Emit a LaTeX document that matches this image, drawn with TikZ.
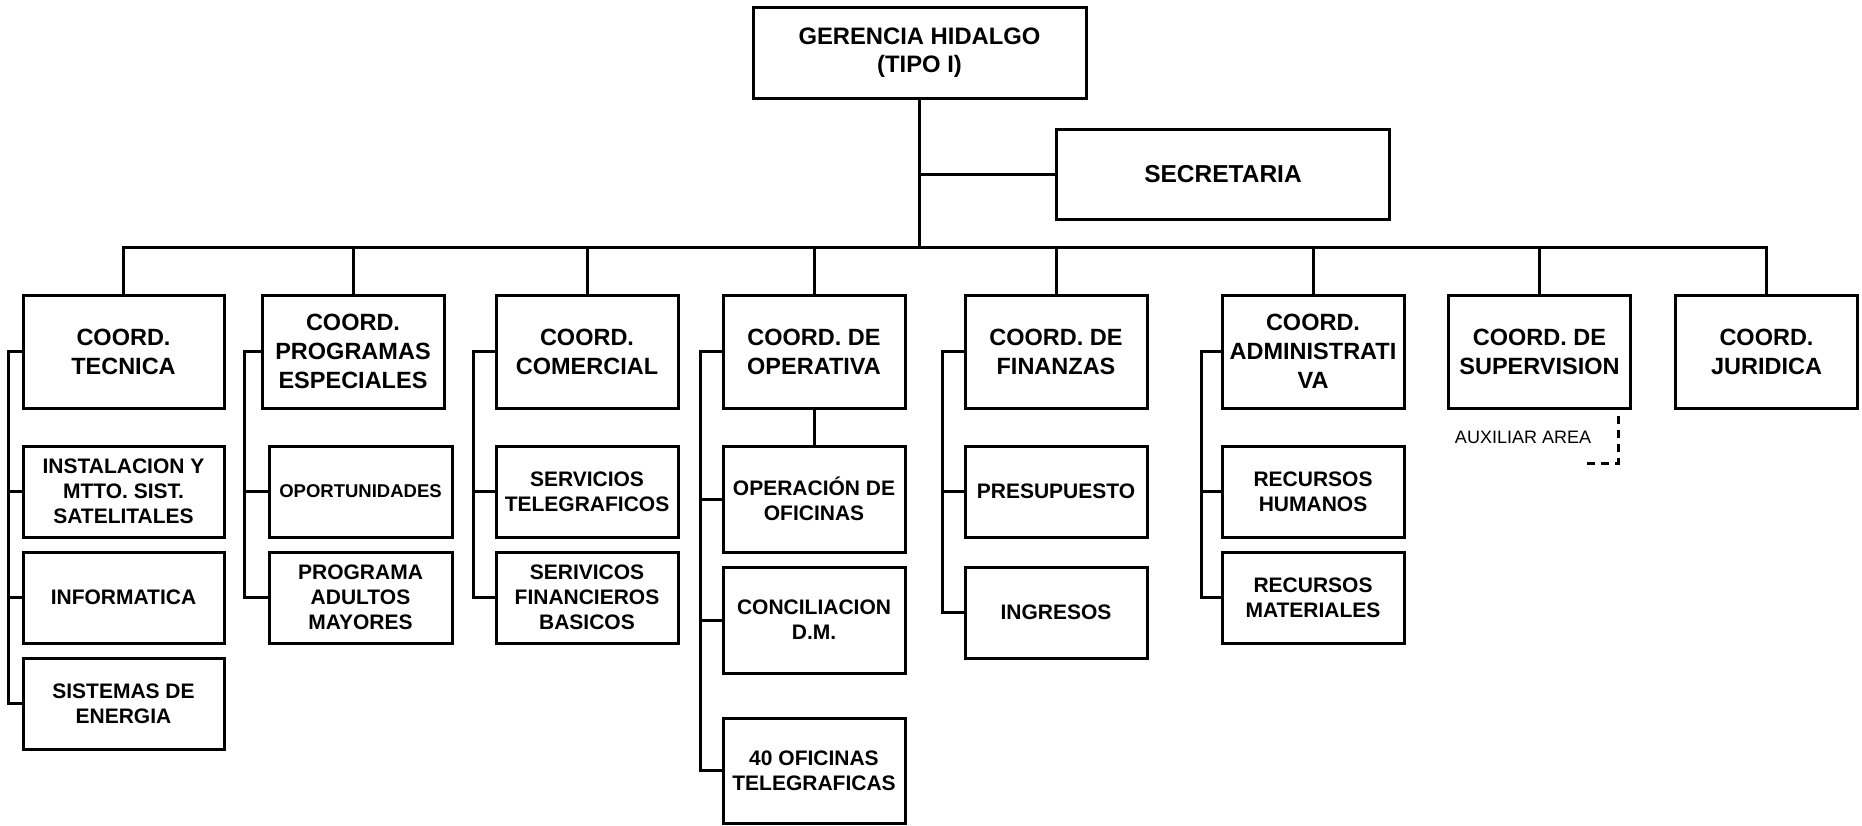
\documentclass[tikz,border=0pt]{standalone}
\usepackage{fontspec}
\setmainfont{Liberation Sans}
\begin{document}
\begin{tikzpicture}[x=1pt,y=-1pt,
  box/.style={draw=black, line width=3pt, fill=white, inner sep=0pt, align=center, text=black},
  coordbox/.style={box, minimum width=182pt, minimum height=113pt, font=\bfseries\fontsize{23.5}{29}\selectfont},
  childbox/.style={box, minimum width=182pt, minimum height=91pt, font=\bfseries\fontsize{21}{25}\selectfont},
  topbox/.style={box, minimum width=333pt, minimum height=91pt, font=\bfseries\fontsize{23.8}{28}\selectfont},
  link/.style={draw=black, line width=3pt},
  auxlink/.style={draw=black, line width=3pt, dash pattern=on 8pt off 6pt}
]
\useasboundingbox (0,0) rectangle (1862,825);

% top
\node[topbox] (G) at (919.5,52.5) {GERENCIA HIDALGO\\(TIPO I)};
\node[topbox, minimum height=90pt, font=\bfseries\fontsize{24.5}{28}\selectfont] (S) at (1223,174) {SECRETARIA};

% coordinators
\node[coordbox, minimum width=201pt] (c1) at (123.5,351.5) {COORD.\\TECNICA};
\node[coordbox] (c2) at (353,351.5) {COORD.\\PROGRAMAS\\ESPECIALES};
\node[coordbox] (c3) at (587,351.5) {COORD.\\COMERCIAL};
\node[coordbox] (c4) at (814,351.5) {COORD. DE\\OPERATIVA};
\node[coordbox] (c5) at (1056,351.5) {COORD. DE\\FINANZAS};
\node[coordbox] (c6) at (1313,351.5) {COORD.\\ADMINISTRATI\\VA};
\node[coordbox] (c7) at (1539.5,351.5) {COORD. DE\\SUPERVISION};
\node[coordbox] (c8) at (1766.5,351.5) {COORD.\\JURIDICA};

% column 1
\node[childbox, minimum width=201pt] (k11) at (123.5,491.5) {INSTALACION Y\\MTTO. SIST.\\SATELITALES};
\node[childbox, minimum width=201pt] (k12) at (123.5,597.5) {INFORMATICA};
\node[childbox, minimum width=201pt] (k13) at (123.5,703.5) {SISTEMAS DE\\ENERGIA};
% column 2
\node[childbox, minimum width=183pt, font=\bfseries\fontsize{18.5}{22}\selectfont] (k21) at (360.5,491.5) {OPORTUNIDADES};
\node[childbox, minimum width=183pt] (k22) at (360.5,597.5) {PROGRAMA\\ADULTOS\\MAYORES};
% column 3
\node[childbox] (k31) at (587,491.5) {SERVICIOS\\TELEGRAFICOS};
\node[childbox] (k32) at (587,597.5) {SERIVICOS\\FINANCIEROS\\BASICOS};
% column 4
\node[childbox, minimum height=106pt] (k41) at (814,499) {OPERACIÓN DE\\OFICINAS};
\node[childbox, minimum height=106pt] (k42) at (814,620) {CONCILIACION\\D.M.};
\node[childbox, minimum height=105pt] (k43) at (814,770.5) {40 OFICINAS\\TELEGRAFICAS};
% column 5
\node[childbox] (k51) at (1056,491.5) {PRESUPUESTO};
\node[childbox] (k52) at (1056,612.5) {INGRESOS};
% column 6
\node[childbox] (k61) at (1313,491.5) {RECURSOS\\HUMANOS};
\node[childbox] (k62) at (1313,597.5) {RECURSOS\\MATERIALES};

% auxiliar
\node[inner sep=0pt, font=\fontsize{18}{21}\selectfont] (aux) at (1523,437) {AUXILIAR AREA};
\coordinate (auxT) at (1618,416);
\coordinate (auxC) at (1618,463);
\coordinate (auxE) at (1585,463);
\draw[auxlink] (auxT) -- (auxC) -- (auxE);

% top connectors
\coordinate (busL) at (123.5,247);
\coordinate (busR) at (1766.5,247);
\draw[link] (G.south) -- (G.south |- busL) -- ++(0,1.5);
\draw[link] (S.west) -- (S.west -| G.south);
\draw[link, line cap=rect] (busL) -- (busR);
\foreach \c in {c1,c2,c3,c4,c5,c6,c7,c8}
  \draw[link] (\c.north) -- (\c.north |- busL);

% brackets
\draw[link] (c1.west) -- ++(-13,0) |- (k13.west);
\draw[link] (k11.west) -- ++(-13,0);
\draw[link] (k12.west) -- ++(-13,0);

\draw[link] (c2.west) -- ++(-16,0) |- (k22.west);
\draw[link] (k21.west) -- ++(-23,0);

\draw[link] (c3.west) -- ++(-21,0) |- (k32.west);
\draw[link] (k31.west) -- ++(-21,0);

\draw[link] (c4.west) -- ++(-21,0) |- (k43.west);
\draw[link] (k41.west) -- ++(-21,0);
\draw[link] (k42.west) -- ++(-21,0);
\draw[link] (c4.south) -- (k41.north);

\draw[link] (c5.west) -- ++(-21,0) |- (k52.west);
\draw[link] (k51.west) -- ++(-21,0);

\draw[link] (c6.west) -- ++(-19,0) |- (k62.west);
\draw[link] (k61.west) -- ++(-19,0);
\end{tikzpicture}
\end{document}
